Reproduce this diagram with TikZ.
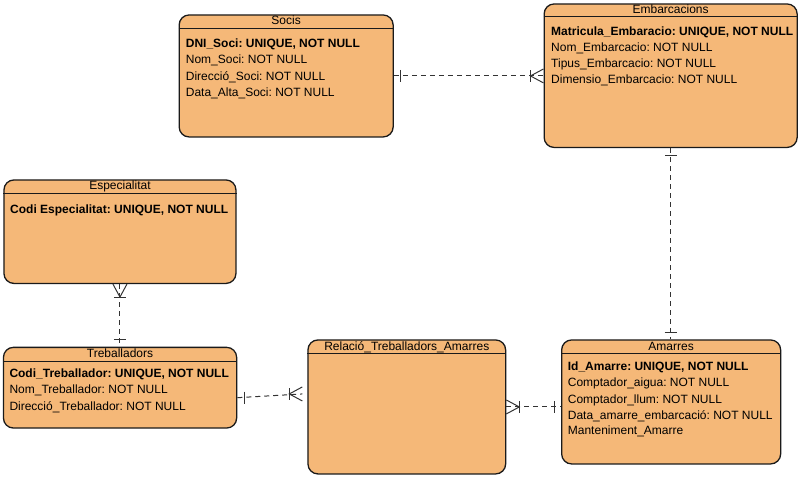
\documentclass[tikz,border=0pt]{standalone}
\usepackage{fontspec}
\setmainfont{Liberation Sans}
\usetikzlibrary{calc}
\frenchspacing
\definecolor{erfill}{HTML}{F5B878}
\definecolor{erline}{HTML}{1A1A1A}
\definecolor{conncol}{HTML}{333333}
\tikzset{
  erbox/.style={draw=erline, line width=1.3pt, fill=erfill, rounded corners=10pt, anchor=north west, inner sep=0pt},
  hdr/.style={draw=erline, line width=1pt},
  ttl/.style={anchor=base, inner sep=0pt, font=\fontsize{12}{14}\selectfont\frenchspacing},
  attr/.style={anchor=base west, inner sep=0pt, font=\fontsize{12}{14}\selectfont\frenchspacing},
  key/.style={attr, font=\fontsize{12}{14}\selectfont\bfseries\frenchspacing},
  conn/.style={draw=conncol, line width=1pt, dash pattern=on 5pt off 4pt},
  erm/.style={draw=conncol, line width=1pt},
  onebar/.pic={\draw[erm] (7,-6) -- (7,6);},
  crowbar/.pic={\draw[erm] (0,-7) -- (13,0) -- (0,7); \draw[erm] (13,-6) -- (13,6);}
}
\begin{document}
\begin{tikzpicture}[x=1pt,y=-1pt]
\useasboundingbox (0,0) rectangle (809,489);

% Socis
\node[erbox, minimum width=214, minimum height=122] (socis) at (178.5,14.3) {};
\draw[hdr] ($(socis.north west)+(0,14)$) -- ($(socis.north east)+(0,14)$);
\node[ttl] (socisT) at ($(socis.north)+(0,10.7)$) {Socis};
\node[key]  (s1) at (185.7,47.7) {DNI\_Soci: UNIQUE, NOT NULL};
\node[attr] (s2) at (185.7,64) {Nom\_Soci: NOT NULL};
\node[attr] (s3) at (185.7,80.5) {Direcció\_Soci: NOT NULL};
\node[attr] (s4) at (185.7,97) {Data\_Alta\_Soci: NOT NULL};

% Embarcacions
\node[erbox, minimum width=253, minimum height=143.5] (emb) at (543.5,3.3) {};
\draw[hdr] ($(emb.north west)+(0,13)$) -- ($(emb.north east)+(0,13)$);
\node[ttl] (embT) at ($(emb.north)+(0,10.7)$) {Embarcacions};
\node[key]  (e1) at (551,35.3) {Matricula\_Embaracio: UNIQUE, NOT NULL};
\node[attr] (e2) at (551,51.5) {Nom\_Embarcacio: NOT NULL};
\node[attr] (e3) at (551,67.5) {Tipus\_Embarcacio: NOT NULL};
\node[attr] (e4) at (551,83.3) {Dimensio\_Embarcacio: NOT NULL};

% Especialitat
\node[erbox, minimum width=232, minimum height=103.5] (esp) at (3.3,179.3) {};
\draw[hdr] ($(esp.north west)+(0,14.7)$) -- ($(esp.north east)+(0,14.7)$);
\node[ttl] (espT) at ($(esp.north)+(0,10.7)$) {Especialitat};
\node[key] (p1) at (10,213.3) {Codi Especialitat: UNIQUE, NOT NULL};

% Treballadors
\node[erbox, minimum width=233.2, minimum height=80.7] (treb) at (2.8,346.7) {};
\draw[hdr] ($(treb.north west)+(0,14.3)$) -- ($(treb.north east)+(0,14.3)$);
\node[ttl] (trebT) at ($(treb.north)+(0,10.6)$) {Treballadors};
\node[key]  (t1) at (9.3,377.7) {Codi\_Treballador: UNIQUE, NOT NULL};
\node[attr] (t2) at (9.3,393.5) {Nom\_Treballador: NOT NULL};
\node[attr] (t3) at (9.3,410) {Direcció\_Treballador: NOT NULL};

% Relacio
\node[erbox, minimum width=197.7, minimum height=134] (rel) at (307.3,339.3) {};
\draw[hdr] ($(rel.north west)+(0,14)$) -- ($(rel.north east)+(0,14)$);
\node[ttl] (relT) at ($(rel.north)+(0,10.7)$) {Relació\_Treballadors\_Amarres};

% Amarres
\node[erbox, minimum width=219, minimum height=124] (am) at (561,339.3) {};
\draw[hdr] ($(am.north west)+(0,14)$) -- ($(am.north east)+(0,14)$);
\node[ttl] (amT) at ($(am.north)+(0,10.7)$) {Amarres};
\node[key]  (a1) at (567.7,370.7) {Id\_Amarre: UNIQUE, NOT NULL};
\node[attr] (a2) at (567.7,386.7) {Comptador\_aigua: NOT NULL};
\node[attr] (a3) at (567.7,403) {Comptador\_llum: NOT NULL};
\node[attr] (a4) at (567.7,419) {Data\_amarre\_embarcació: NOT NULL};
\node[attr] (a5) at (567.7,434.5) {Manteniment\_Amarre};

% Connectors
% Socis - Embarcacions
\coordinate (c1a) at (socis.east);
\coordinate (c1b) at (socis.east -| emb.west);
\draw[conn] (c1a) -- (c1b);
\pic at (c1a) {onebar};
\pic[rotate=180] at (c1b) {crowbar};

% Embarcacions - Amarres
\coordinate (c2a) at (emb.south);
\coordinate (c2b) at (emb.south |- am.north);
\draw[conn] (c2a) -- (c2b);
\pic[rotate=-90] at (c2a) {onebar};
\pic[rotate=90] at (c2b) {onebar};

% Especialitat - Treballadors
\coordinate (c3a) at (esp.south);
\coordinate (c3b) at (esp.south |- treb.north);
\draw[conn] (c3a) -- (c3b);
\pic[rotate=-90] at (c3a) {crowbar};
\pic[rotate=90] at (c3b) {onebar};

% Treballadors - Relacio
\coordinate (c4a) at ($(treb.east)+(0,10)$);
\coordinate (c4b) at ($(rel.west)+(-5,-13)$);
\draw[conn] (c4a) -- (c4b);
\pic at (c4a) {onebar};
\pic[rotate=180] at (c4b) {crowbar};

% Relacio - Amarres
\coordinate (c5a) at (rel.east);
\coordinate (c5b) at (rel.east -| am.west);
\draw[conn] (c5a) -- (c5b);
\pic at (c5a) {crowbar};
\pic[rotate=180] at (c5b) {onebar};
\end{tikzpicture}
\end{document}
